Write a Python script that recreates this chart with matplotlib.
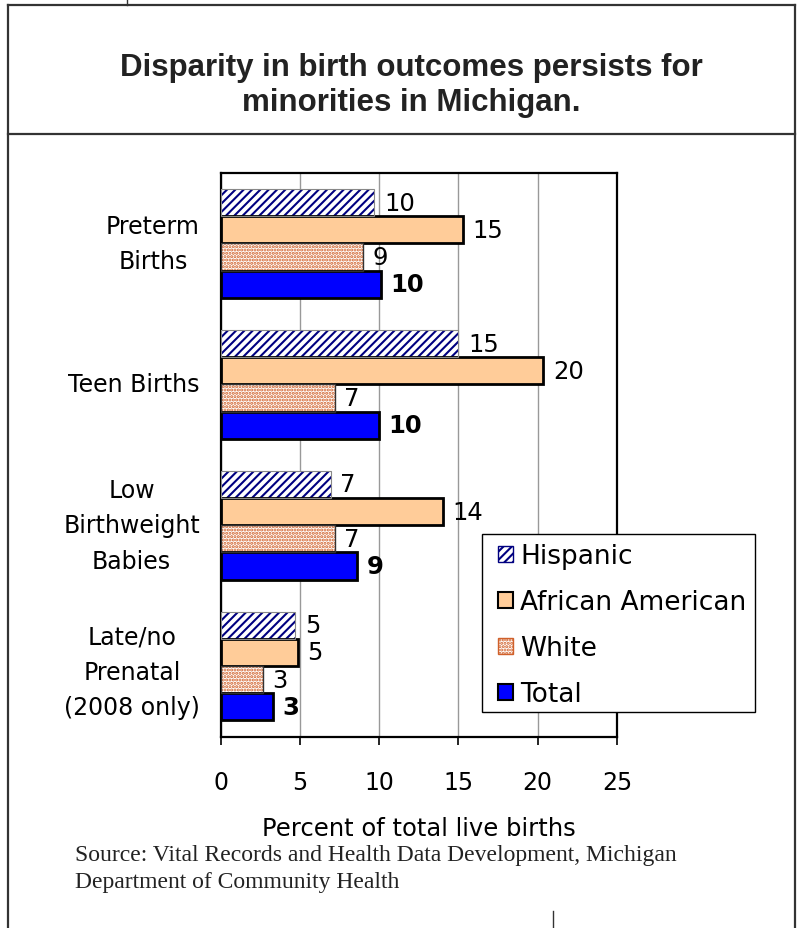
import matplotlib.pyplot as plt
from matplotlib.lines import Line2D
from matplotlib.patches import Patch, Rectangle
import numpy as np

# rates per 100 live births, read group by group
categories = ['Preterm\nBirths', 'Teen Births', 'Low\nBirthweight\nBabies',
              'Late/no\nPrenatal\n(2008 only)']
series_names = ['Hispanic', 'African American', 'White', 'Total']
hispanic = [9.7, 15.0, 6.95, 4.7]
african_american = [15.3, 20.35, 14.0, 4.85]
white = [9.0, 7.2, 7.2, 2.65]
total = [10.1, 10.0, 8.6, 3.3]
x_ticks = [0, 5, 10, 15, 20, 25]

series = [hispanic, african_american, white, total]

# face, hatch colour, hatch, outline colour, outline width
styles = [
    dict(face='white', hcolor='#000080', hatch='////', edge='#888888', lw=0.8),
    dict(face='#ffcc99', hcolor='black', hatch=None, edge='black', lw=2.0),
    dict(face='white', hcolor='#d0602a', hatch='.....', edge='#333333', lw=1.0),
    dict(face='#0000ff', hcolor='black', hatch=None, edge='black', lw=2.0),
]

W, H = 799, 929
plt.rcParams['font.family'] = ['DejaVu Sans']
plt.rcParams['hatch.linewidth'] = 1.5

fig = plt.figure(figsize=(W / 100, H / 100), dpi=100)


def px_line(x0, y0, x1, y1, lw=1.6):
    fig.add_artist(Line2D([x0 / W, x1 / W], [1 - y0 / H, 1 - y1 / H],
                          color='#333333', lw=lw, transform=fig.transFigure))


# outer frame and title divider
px_line(8, 6, 795, 6)
px_line(8, 6, 8, H)
px_line(795, 6, 795, H)
px_line(8, 135, 795, 135)
px_line(127, 0, 127, 6, lw=1.0)
px_line(553, 912, 553, H, lw=1.0)

fig.text(411 / W, 1 - 85.5 / H,
         'Disparity in birth outcomes persists for\nminorities in Michigan.',
         ha='center', va='center', fontsize=22.5, fontweight='bold',
         family='Liberation Sans', color='#222222', linespacing=1.25)

ax_l, ax_r, ax_t, ax_b = 220.7, 617, 174, 737.5
ax = fig.add_axes([ax_l / W, 1 - ax_b / H, (ax_r - ax_l) / W, (ax_b - ax_t) / H])

y = np.arange(len(categories))
bar_h = 0.193
offsets = (np.arange(4) - 1.5) * bar_h

for vals, st, off, name in zip(series, styles, offsets, series_names):
    pos = y + off
    if st['hatch']:
        ax.barh(pos, vals, height=bar_h, color=st['face'], edgecolor=st['hcolor'],
                hatch=st['hatch'], linewidth=0, zorder=3)
        ax.barh(pos, vals, height=bar_h, fill=False, edgecolor=st['edge'],
                linewidth=st['lw'], zorder=4)
    else:
        ax.barh(pos, vals, height=bar_h, color=st['face'], edgecolor=st['edge'],
                linewidth=st['lw'], zorder=3)
    bold = name == 'Total'
    for p, v in zip(pos, vals):
        ax.text(v + 0.6, p, f'{v:.0f}', va='center', ha='left', fontsize=17.5,
                fontweight='bold' if bold else 'normal', color='black', zorder=5)

ax.set_xlim(0, 25)
ax.set_ylim(3.5, -0.5)
ax.set_xticks(x_ticks)
ax.set_xticklabels([str(t) for t in x_ticks], fontsize=17)
ax.set_yticks(y, labels=[''] * len(y))

# category labels, centred line by line to the left of the axis
label_x = (200 - ax_l) / (ax_r - ax_l)
label_nudge = [0.0, 0.0, 0.0, 0.04]
for yi, text, dy in zip(y, categories, label_nudge):
    ax.text(label_x, yi + dy, text, transform=ax.get_yaxis_transform(),
            ha='right', va='center', multialignment='center', fontsize=17,
            linespacing=1.6)

ax.tick_params(axis='y', length=0)
ax.tick_params(axis='x', length=6, width=1.2, direction='out', pad=18)
ax.grid(axis='x', color='#999999', lw=1.0, zorder=0)
ax.set_axisbelow(True)
for s in ax.spines.values():
    s.set_linewidth(1.6)
    s.set_color('black')
ax.set_xlabel('Percent of total live births', fontsize=17.5, labelpad=16)

# legend box sits over the plot area
fig.add_artist(Rectangle((482 / W, 1 - 713 / H), 273 / W, 178 / H,
                         transform=fig.transFigure, facecolor='white',
                         edgecolor='black', lw=1.0, zorder=3))
handles = []
for st, name in zip(styles, series_names):
    if st['hatch']:
        handles.append(Patch(facecolor=st['face'], edgecolor=st['hcolor'],
                             hatch=st['hatch'], linewidth=1.0, label=name))
    else:
        handles.append(Patch(facecolor=st['face'], edgecolor='black',
                             linewidth=1.5, label=name))
leg = fig.legend(handles=handles, loc='upper left',
                 bbox_to_anchor=(498 / W, 1 - 544 / H),
                 fontsize=19, frameon=False, handlelength=0.55, handleheight=0.55,
                 handletextpad=0.3, labelspacing=0.76, borderpad=0,
                 borderaxespad=0)
leg.set_zorder(5)

fig.text(75 / W, 1 - 845 / H,
         'Source: Vital Records and Health Data Development, Michigan\n'
         'Department of Community Health',
         ha='left', va='top', fontsize=17, family='Liberation Serif',
         color='#222222', linespacing=1.35)

fig.savefig('out.png', dpi=100)
